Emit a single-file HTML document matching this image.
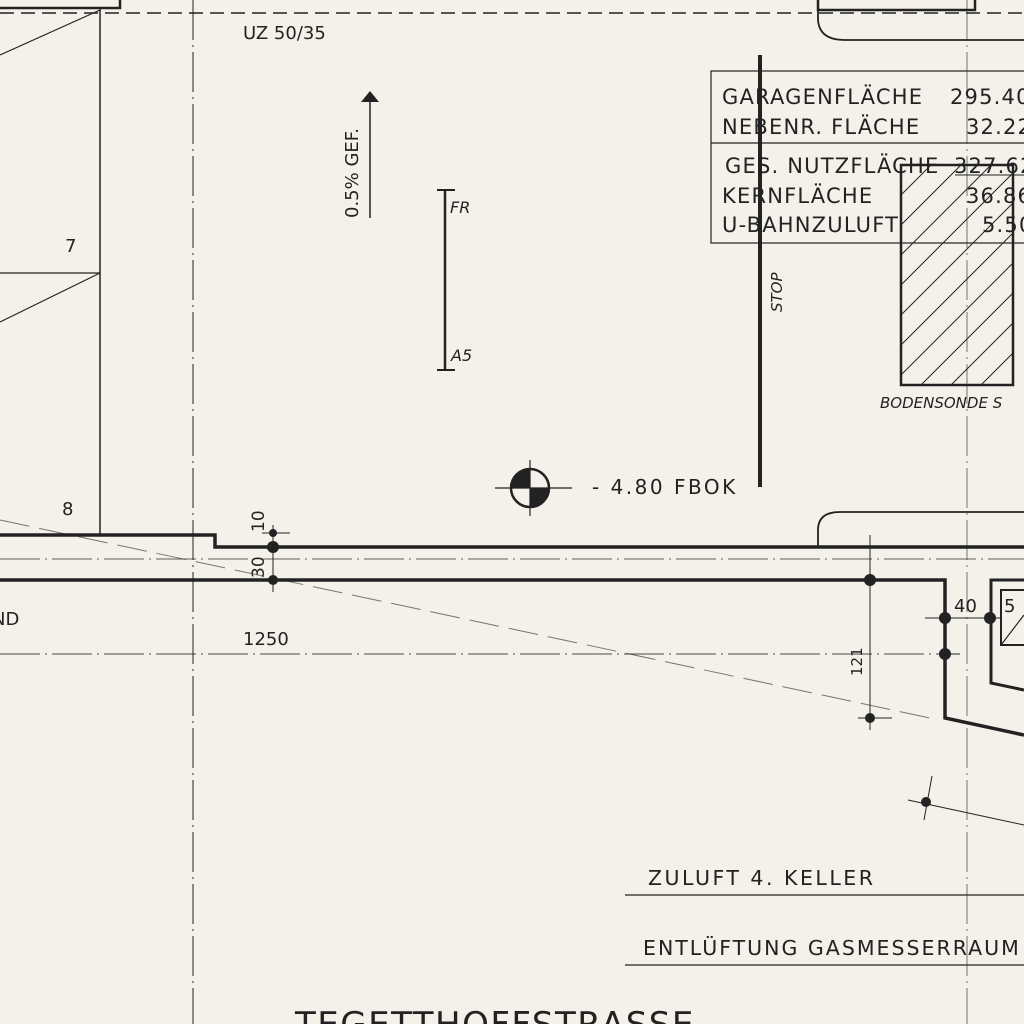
<!DOCTYPE html>
<html><head><meta charset="utf-8"><style>
html,body{margin:0;padding:0;background:#f3f1e9;}
svg{display:block;}
text{font-family:"DejaVu Sans","Liberation Sans",sans-serif;fill:#222;}
</style></head><body>
<svg width="1024" height="1024" viewBox="0 0 1024 1024" xmlns="http://www.w3.org/2000/svg">
<rect width="1024" height="1024" fill="#f3f1e9"/>
<g stroke="#222" fill="none">
<line x1="0" y1="13" x2="1024" y2="13" stroke-width="1.5" stroke-dasharray="14,7"/>
<polyline points="0,8 120,8 120,0" stroke-width="2.5"/>
<polyline points="818,0 818,10 975,10 975,0" stroke-width="2.5"/>
<path d="M818,10 L818,18 Q818,40 845,40 L1024,40" stroke-width="1.8"/>
<line x1="100" y1="8" x2="100" y2="535" stroke-width="1.5"/>
<line x1="0" y1="55" x2="100" y2="10" stroke-width="1.2"/>
<line x1="0" y1="273" x2="100" y2="273" stroke-width="1.2"/>
<line x1="0" y1="322" x2="100" y2="273" stroke-width="1.2"/>
<line x1="193" y1="0" x2="193" y2="1024" stroke-width="1" stroke-dasharray="40,5,2,5"/>
<line x1="967" y1="0" x2="967" y2="1024" stroke-width="1" stroke-dasharray="40,5,2,5" opacity="0.6"/>
<line x1="0" y1="559" x2="1024" y2="559" stroke-width="1" stroke-dasharray="40,5,2,5" opacity="0.7"/>
<line x1="0" y1="654" x2="945" y2="654" stroke-width="1" stroke-dasharray="40,5,2,5" opacity="0.8"/>
<polyline points="0,535 215,535 215,547 1024,547" stroke-width="3.5"/>
<path d="M818,547 L818,530 Q818,512 840,512 L1024,512" stroke-width="1.8"/>
<polyline points="0,580 945,580 945,718 1024,735" stroke-width="3.5"/>
<polyline points="1024,580 991,580 991,683 1024,690" stroke-width="3"/>
<rect x="1001" y="590" width="30" height="55" stroke-width="2"/>
<line x1="1001" y1="645" x2="1024" y2="615" stroke-width="1.2"/>
<line x1="0" y1="520" x2="930" y2="718" stroke-width="1" stroke-dasharray="30,10" opacity="0.6"/>
<line x1="273" y1="525" x2="273" y2="592" stroke-width="1"/>
<line x1="262" y1="533" x2="290" y2="533" stroke-width="1"/>
<line x1="870" y1="535" x2="870" y2="730" stroke-width="1"/>
<line x1="858" y1="718" x2="892" y2="718" stroke-width="1"/>
<line x1="925" y1="618" x2="1000" y2="618" stroke-width="1"/>
<line x1="945" y1="654" x2="960" y2="654" stroke-width="1"/>
<line x1="908" y1="800" x2="1024" y2="825" stroke-width="1"/>
<line x1="932" y1="776" x2="924" y2="820" stroke-width="1"/>
<rect x="711" y="71" width="330" height="172" stroke-width="1.2"/>
<line x1="711" y1="143" x2="1024" y2="143" stroke-width="1.2"/>
<line x1="955" y1="175" x2="1024" y2="175" stroke-width="1"/>
<line x1="760" y1="55" x2="760" y2="487" stroke-width="4"/>
<rect x="901" y="165" width="112" height="220" stroke-width="2.5"/>
<g stroke-width="1">
<line x1="901" y1="195" x2="931" y2="165"/><line x1="901" y1="225" x2="961" y2="165"/>
<line x1="901" y1="255" x2="991" y2="165"/><line x1="901" y1="285" x2="1013" y2="173"/>
<line x1="901" y1="315" x2="1013" y2="203"/><line x1="901" y1="345" x2="1013" y2="233"/>
<line x1="901" y1="375" x2="1013" y2="263"/><line x1="921" y1="385" x2="1013" y2="293"/>
<line x1="951" y1="385" x2="1013" y2="323"/><line x1="981" y1="385" x2="1013" y2="353"/>
</g>
<line x1="445" y1="190" x2="445" y2="370" stroke-width="2.5"/>
<line x1="437" y1="190" x2="455" y2="190" stroke-width="2"/>
<line x1="437" y1="370" x2="455" y2="370" stroke-width="2"/>
<line x1="370" y1="218" x2="370" y2="100" stroke-width="1.5"/>
<line x1="495" y1="488" x2="572" y2="488" stroke-width="1.2"/>
<line x1="530" y1="460" x2="530" y2="516" stroke-width="1.2"/>
<circle cx="530" cy="488" r="19" stroke-width="2.5"/>
<line x1="625" y1="895" x2="1024" y2="895" stroke-width="1.2"/>
<line x1="625" y1="965" x2="1024" y2="965" stroke-width="1.2"/>
</g>
<path d="M361,102 L370,91 L379,102 Z" fill="#222"/>
<path d="M530,488 L511,488 A19,19 0 0 1 530,469 Z" fill="#222"/>
<path d="M530,488 L549,488 A19,19 0 0 1 530,507 Z" fill="#222"/>
<g fill="#222">
<circle cx="273" cy="533" r="4"/><circle cx="273" cy="547" r="6"/><circle cx="273" cy="580" r="5"/>
<circle cx="870" cy="580" r="6"/><circle cx="870" cy="718" r="5"/>
<circle cx="945" cy="618" r="6"/><circle cx="990" cy="618" r="6"/><circle cx="945" cy="654" r="6"/>
<circle cx="926" cy="802" r="5"/>
</g>
<text x="243" y="39" font-size="18">UZ 50/35</text>
<text transform="translate(358,218) rotate(-90)" font-size="18">0.5% GEF.</text>
<text x="450" y="213" font-size="16" font-style="italic">FR</text>
<text x="451" y="361" font-size="16" font-style="italic">A5</text>
<text x="65" y="252" font-size="18" font-family="Liberation Serif">7</text>
<text x="62" y="515" font-size="18">8</text>
<text x="-8" y="625" font-size="18">ND</text>
<text x="243" y="645" font-size="18">1250</text>
<text transform="translate(264,532) rotate(-90)" font-size="17">10</text>
<text transform="translate(264,578) rotate(-90)" font-size="17">30</text>
<text transform="translate(862,676) rotate(-90)" font-size="15">121</text>
<text x="954" y="612" font-size="18">40</text>
<text x="1004" y="612" font-size="18">5</text>
<text x="592" y="494" font-size="20" letter-spacing="2.5">- 4.80 FBOK</text>
<text transform="translate(782,312) rotate(-90)" font-size="15" font-style="italic">STOP</text>
<text x="880" y="408" font-size="15" font-style="italic">BODENSONDE S</text>
<g font-size="21" letter-spacing="1.2">
<text x="722" y="104">GARAGENFLÄCHE</text><text x="950" y="104">295.40</text>
<text x="722" y="134">NEBENR. FLÄCHE</text><text x="966" y="134">32.22</text>
<text x="725" y="173">GES. NUTZFLÄCHE</text><text x="954" y="173">327.62</text>
<text x="722" y="203">KERNFLÄCHE</text><text x="966" y="203">36.86</text>
<text x="722" y="232">U-BAHNZULUFT</text><text x="982" y="232">5.50</text>
</g>
<text x="648" y="885" font-size="20.5" letter-spacing="2.5">ZULUFT 4. KELLER</text>
<text x="643" y="955" font-size="20.5" letter-spacing="2">ENTLÜFTUNG GASMESSERRAUM</text>
<text x="295" y="1036" font-size="34" letter-spacing="1.5">TEGETTHOFFSTRASSE</text>
</svg>
</body></html>
